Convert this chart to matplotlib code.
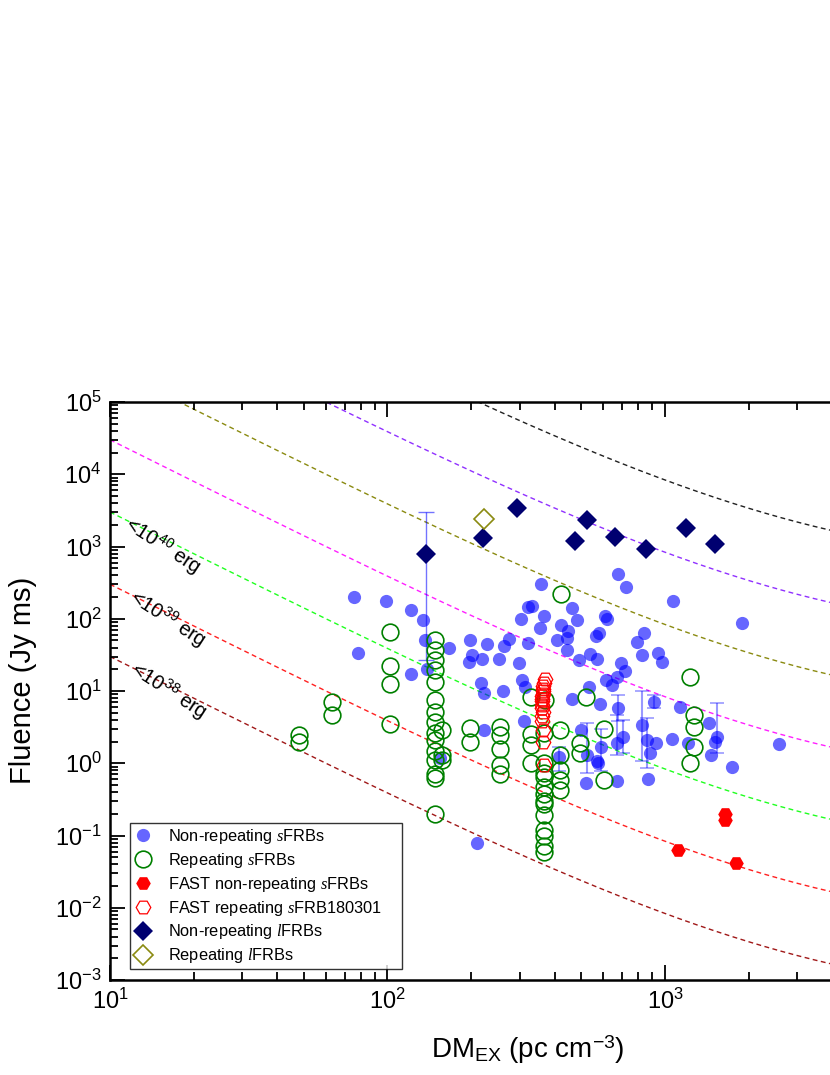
import numpy as np
import matplotlib
matplotlib.use('Agg')
import matplotlib.pyplot as plt

plt.rcParams['font.family'] = ['Liberation Sans', 'DejaVu Sans']
plt.rcParams['mathtext.fontset'] = 'custom'
plt.rcParams['mathtext.rm'] = 'Liberation Sans'
plt.rcParams['mathtext.it'] = 'Liberation Serif:italic'
plt.rcParams['mathtext.bf'] = 'Liberation Sans:bold'

# --- data (DM_EX in pc cm^-3, fluence in Jy ms) ---
nonrep_s_dm = [75.9, 98.5, 122, 78.5, 122, 134, 137, 139, 166, 198, 229, 201, 197, 219,
               253, 264, 273, 298, 302, 320, 218, 222, 261, 306, 311, 222, 155, 211,
               357, 675, 721, 1067, 331, 365, 462, 481, 421, 355, 448, 444, 407, 320,
               444, 608, 620, 578, 566, 840, 790, 828, 946, 977, 488, 537, 571, 697,
               718, 670, 613, 643, 314, 534, 462, 583, 680, 913, 1133, 1440, 1889,
               1542, 1520, 1064, 1208, 1466, 1738, 2583, 930, 497, 525, 586, 571, 519,
               673, 708, 673, 824, 863, 883, 871, 416, 576]
nonrep_s_fl = [198, 178, 132, 34, 17.2, 96, 51, 20, 40, 51, 45, 31.6, 25, 28,
               28, 42, 53, 24.5, 99, 147, 13, 9.4, 9.9, 14.3, 3.9, 2.85, 1.2, 0.078,
               300, 416, 278, 176, 150, 109, 139, 96, 82, 74, 68, 55, 51, 46,
               37, 108, 100, 63, 57, 63, 48, 31.6, 34, 25.5, 27, 33, 28, 24.5,
               18.9, 15.8, 14, 12, 11.3, 11.3, 7.8, 6.6, 5.8, 7.1, 6.06, 3.6, 86.5,
               2.29, 2.0, 2.14, 1.9, 1.32, 0.88, 1.86, 1.88, 2.85, 1.3, 1.67, 1.06, 0.54,
               0.56, 2.3, 1.9, 3.4, 2.1, 1.4, 0.6, 1.23, 1.0]

# points with error bars: dm, fluence, lower, upper
err_dm = [525, 586, 673, 708, 824, 863, 1542, 416, 913, 680]
err_fl = [1.3, 1.67, 1.9, 2.3, 3.4, 2.1, 2.29, 1.23, 7.1, 5.8]
err_lo = [0.73, 0.77, 1.3, 1.4, 1.06, 0.85, 1.4, 0.79, 5.8, 3.9]
err_hi = [3.6, 3.0, 4.6, 4.0, 10, 4.2, 6.8, 1.67, 8.8, 8.8]

rep_s_dm = [47.8, 47.8, 63, 63, 102, 102, 102, 102,
            148, 148, 148, 148, 148, 148, 148, 148, 148, 148, 148, 148, 148, 148, 148,
            157, 157, 157, 198, 198, 254, 254, 254, 254, 254,
            330, 330, 330, 330, 370,
            365, 365, 365, 365, 365, 365, 365, 365, 365, 365, 365, 365, 365,
            418, 418, 418, 418, 418, 422, 518, 604, 604, 494, 494,
            1231, 1231, 1277, 1277, 1277]
rep_s_fl = [2.46, 1.99, 7.1, 4.66, 65, 22, 12.5, 3.5,
            51, 37, 27, 19.4, 13.2, 7.6, 5.1, 3.7, 2.6, 2.1, 1.5, 1.1, 0.72, 0.63, 0.2,
            2.85, 1.3, 1.1, 3.1, 2.0, 3.2, 2.45, 1.6, 0.94, 0.7,
            8.2, 2.5, 1.8, 1.0, 7.5,
            2.6, 1.0, 0.73, 0.47, 0.38, 0.3, 0.27, 0.19, 0.12, 0.1, 0.072, 0.06, 0.65,
            2.85, 1.3, 0.81, 0.59, 0.43, 220, 8.2, 3.0, 0.59, 1.9, 1.4,
            15.8, 1.0, 4.6, 3.2, 1.67]

fast_nonrep_dm = [1112, 1644, 1644, 1803]
fast_nonrep_fl = [0.063, 0.2, 0.165, 0.041]

fast_rep_dm = [368, 366, 364, 363, 362, 362, 361, 360, 361, 360, 361, 362, 360, 361, 362, 363, 365]
fast_rep_fl = [14.8, 12.9, 11.6, 10.8, 9.9, 9.1, 8.4, 7.8, 7.2, 6.5, 5.8, 5.2, 4.5, 3.8, 2.9, 2.0, 0.95]

nonrep_l_dm = [138, 220, 294, 475, 522, 659, 857, 1188, 1510]
nonrep_l_fl = [800, 1300, 3440, 1190, 2330, 1370, 922, 1790, 1080]
nonrep_l_lo = [27, 1300, 3440, 1190, 2330, 1370, 922, 1790, 1080]
nonrep_l_hi = [3000, 1300, 3440, 1190, 2330, 1370, 922, 1790, 1080]

rep_l_dm = [222]
rep_l_fl = [2380]

# energy lines
energy_exp = [38, 39, 40, 41, 42, 43, 44]
energy_colors = ['#a01818', '#ff2020', '#20ff20', '#ff20ff', '#8a8a10', '#9030ff', '#202020']
fluence_1e38_at_dm10 = 30.0

xmax = 3933
z = np.linspace(0, 10, 20001)
ez = np.sqrt(0.3 * (1 + z) ** 3 + 0.7)
dm_of_z = 1000 * np.concatenate([[0], np.cumsum(0.5 * ((1 + z[1:]) / ez[1:] + (1 + z[:-1]) / ez[:-1]) * np.diff(z))])
dc_of_z = np.concatenate([[0], np.cumsum(0.5 * (1 / ez[1:] + 1 / ez[:-1]) * np.diff(z))])
dm_line = np.logspace(1, np.log10(xmax), 400)
dc_line = np.interp(np.interp(dm_line, dm_of_z, z), z, dc_of_z)
shape = (dm_line / 10) ** 0.075 * (dc_line[0] / dc_line) ** 2

fig = plt.figure(figsize=(8.3, 10.75), dpi=100)
ax = fig.add_axes([110 / 830, 95 / 1075, 720 / 830, 578 / 1075])

for e, c in zip(energy_exp, energy_colors):
    ax.plot(dm_line, fluence_1e38_at_dm10 * 10 ** (e - 38) * shape, color=c, lw=1,
            dashes=(3.5, 2.5), zorder=1)

ax.errorbar(err_dm, err_fl,
            yerr=[np.array(err_fl) - np.array(err_lo), np.array(err_hi) - np.array(err_fl)],
            fmt='none', ecolor='blue', alpha=0.4, elinewidth=1.5, capsize=5, capthick=1.2, zorder=2)
ax.errorbar(nonrep_l_dm, nonrep_l_fl,
            yerr=[np.array(nonrep_l_fl) - np.array(nonrep_l_lo), np.array(nonrep_l_hi) - np.array(nonrep_l_fl)],
            fmt='none', ecolor='blue', alpha=0.55, elinewidth=1, capsize=6, capthick=1, zorder=2)

ax.plot(nonrep_s_dm, nonrep_s_fl, 'o', color='blue', alpha=0.6, ms=9.5, mew=0,
        label=r'Non-repeating $s$FRBs', zorder=3)
ax.plot(rep_s_dm, rep_s_fl, 'o', mfc='none', mec='green', ms=12, mew=1.2,
        label=r'Repeating $s$FRBs', zorder=4)
ax.plot(fast_nonrep_dm, fast_nonrep_fl, 'H', color='red', ms=10.5, mew=0,
        label=r'FAST non-repeating $s$FRBs', zorder=5)
ax.plot(fast_rep_dm, fast_rep_fl, 'H', mfc='none', mec='red', ms=10.5, mew=0.9,
        label=r'FAST repeating $s$FRB180301', zorder=5)
ax.plot(nonrep_l_dm, nonrep_l_fl, 'D', color='#000070', ms=10, mew=0,
        label=r'Non-repeating $l$FRBs', zorder=6)
ax.plot(rep_l_dm, rep_l_fl, 'D', mfc='white', mec='#8a8a10', ms=10, mew=1.2,
        label=r'Repeating $l$FRBs', zorder=6)

lab_pos = [(12.1, 21.5, '38'), (12.0, 213, '39'), (11.5, 2180, '40')]
for x, y, p in lab_pos:
    ax.text(x, y, r'<10$^{' + p + r'}$ erg', fontsize=14.5, rotation=-33,
            rotation_mode='anchor', ha='left', va='center', zorder=7)

ax.set_xscale('log')
ax.set_yscale('log')
ax.set_xlim(10, xmax)
ax.set_ylim(1e-3, 1e5)
ax.set_yticks([10.0 ** k for k in range(-3, 6)])
ax.tick_params(which='both', direction='in', top=True, right=False, labelsize=17, width=1.3)
ax.tick_params(which='major', length=11, pad=6)
ax.tick_params(which='minor', length=6)
for s in ['left', 'bottom', 'top']:
    ax.spines[s].set_linewidth(1.8)
ax.spines['right'].set_visible(False)

ax.set_xlabel(r'DM$_{\mathrm{EX}}$ (pc cm$^{-3}$)', fontsize=20)
ax.set_ylabel('Fluence (Jy ms)', fontsize=21)
ax.xaxis.set_label_coords((528 - 110) / 720, (980 - 1034) / 578)
ax.yaxis.set_label_coords((37 - 110) / 720, (980 - 680) / 578)

leg = ax.legend(loc='lower left',
                bbox_to_anchor=((130 - 110) / 720, (980 - 969) / 578, (402 - 130) / 720, 0.2),
                mode='expand', borderaxespad=0, fontsize=11.8, frameon=True, fancybox=False,
                labelspacing=0.3, handletextpad=0.9, borderpad=0.22, handlelength=1.2)
leg.get_frame().set_edgecolor('black')
leg.get_frame().set_linewidth(1)

fig.savefig('out.png', dpi=100)
